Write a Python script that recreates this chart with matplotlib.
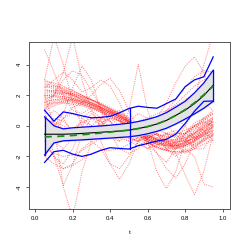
import numpy as np
import matplotlib
matplotlib.use("Agg")
import matplotlib.pyplot as plt

t = [0.05, 0.10, 0.15, 0.20, 0.25, 0.30, 0.35, 0.40, 0.45, 0.50,
     0.55, 0.60, 0.65, 0.70, 0.75, 0.80, 0.85, 0.90, 0.95]

band_curves = [
    [2.8, 2.6, 2.4, 2.2, 2.0, 1.7, 1.4, 1.1, 0.8, 0.4, -0.2, -0.6, -0.8, -0.9, -0.9, -0.8, -0.5, -0.1, 0.3],
    [2.0, 2.0, 1.9, 1.8, 1.6, 1.4, 1.2, 0.9, 0.6, 0.2, -0.4, -0.9, -1.1, -1.2, -1.2, -1.1, -0.8, -0.4, -0.1],
    [1.5, 1.7, 1.8, 1.7, 1.5, 1.3, 1.0, 0.8, 0.5, 0.1, -0.5, -1.0, -1.2, -1.3, -1.4, -1.3, -1.0, -0.6, -0.3],
    [3.0, 2.7, 2.4, 2.1, 1.9, 1.7, 1.5, 1.2, 0.9, 0.5, -0.1, -0.4, -0.6, -0.7, -0.7, -0.5, -0.2, 0.3, 0.8],
    [1.2, 1.5, 1.6, 1.6, 1.4, 1.2, 0.9, 0.6, 0.3, -0.1, -0.6, -1.1, -1.4, -1.6, -1.7, -1.6, -1.3, -0.9, -0.6],
    [2.3, 2.3, 2.2, 2.0, 1.8, 1.5, 1.2, 0.9, 0.6, 0.2, -0.4, -0.8, -1.1, -1.3, -1.4, -1.3, -1.0, -0.6, -0.3],
    [1.8, 1.9, 1.9, 1.8, 1.6, 1.4, 1.1, 0.8, 0.5, 0.1, -0.5, -0.9, -1.1, -1.2, -1.1, -0.9, -0.5, 0.0, 0.4],
    [2.6, 2.4, 2.2, 2.0, 1.8, 1.5, 1.3, 1.0, 0.7, 0.3, -0.3, -0.7, -0.9, -1.0, -1.1, -1.0, -0.8, -0.4, 0.0],
    [1.0, 1.3, 1.5, 1.5, 1.4, 1.2, 0.9, 0.6, 0.3, -0.1, -0.6, -1.1, -1.4, -1.6, -1.8, -1.7, -1.4, -1.0, -0.6],
    [2.2, 2.3, 2.3, 2.1, 1.9, 1.6, 1.3, 1.0, 0.7, 0.3, -0.2, -0.5, -0.6, -0.6, -0.5, -0.3, 0.0, 0.4, 0.9],
    [1.6, 1.7, 1.7, 1.6, 1.4, 1.2, 1.0, 0.7, 0.4, 0.0, -0.6, -1.1, -1.4, -1.6, -1.7, -1.7, -1.5, -1.2, -0.9],
    [2.5, 2.6, 2.5, 2.3, 2.0, 1.7, 1.4, 1.1, 0.8, 0.4, -0.2, -0.6, -0.9, -1.0, -1.0, -0.8, -0.5, -0.1, 0.3],
    [1.4, 1.5, 1.5, 1.4, 1.3, 1.1, 0.9, 0.6, 0.3, -0.1, -0.5, -0.9, -1.2, -1.4, -1.5, -1.4, -1.2, -0.9, -0.6],
    [2.9, 2.8, 2.6, 2.3, 2.0, 1.7, 1.4, 1.1, 0.8, 0.4, -0.2, -0.6, -0.9, -1.1, -1.2, -1.2, -1.0, -0.6, -0.2],
    [2.0, 1.9, 1.8, 1.7, 1.5, 1.3, 1.1, 0.8, 0.5, 0.2, -0.4, -0.8, -1.1, -1.3, -1.3, -1.1, -0.7, -0.2, 0.3],
    [1.7, 2.0, 2.1, 2.1, 1.9, 1.7, 1.4, 1.1, 0.7, 0.3, -0.3, -0.7, -1.0, -1.1, -1.1, -0.9, -0.6, -0.2, 0.2],
    [2.4, 2.2, 2.0, 1.8, 1.6, 1.4, 1.1, 0.9, 0.6, 0.2, -0.3, -0.7, -1.0, -1.2, -1.3, -1.2, -0.9, -0.5, -0.1],
    [1.9, 2.1, 2.2, 2.0, 1.7, 1.5, 1.2, 0.9, 0.6, 0.3, -0.3, -0.8, -1.0, -1.0, -0.9, -0.7, -0.4, 0.1, 0.6],
    [2.7, 2.5, 2.3, 2.0, 1.7, 1.4, 1.1, 0.8, 0.4, 0.0, -0.5, -1.0, -1.3, -1.5, -1.5, -1.3, -0.9, -0.4, 0.1],
    [1.1, 1.4, 1.6, 1.7, 1.6, 1.4, 1.2, 0.9, 0.6, 0.3, -0.3, -0.7, -0.9, -1.0, -1.0, -1.0, -0.9, -0.7, -0.5],
    [2.1, 2.2, 2.1, 1.9, 1.7, 1.5, 1.2, 1.0, 0.7, 0.3, -0.2, -0.6, -0.9, -1.1, -1.3, -1.3, -1.1, -0.8, -0.4],
    [1.3, 1.6, 1.7, 1.7, 1.5, 1.3, 1.0, 0.7, 0.4, 0.0, -0.5, -0.9, -1.2, -1.3, -1.3, -1.1, -0.7, -0.3, 0.1],
]

other_curves = [
    [0.5, 0.2, -0.2, -0.5, -0.6, -0.6, -0.5, -0.3, -0.1, 0.1, 0.3, 0.5, 0.8, 1.0, 1.3, 1.7, 2.1, 2.4, 2.6],
    [-1.5, -1.8, -2.0, -1.9, -1.6, -1.2, -0.8, -0.5, -0.4, -0.3, -0.1, 0.2, 0.5, 0.9, 1.4, 2.0, 2.6, 3.0, 3.2],
    [-2.0, -2.5, -2.8, -2.6, -2.2, -1.8, -1.6, -1.6, -1.5, -1.2, -0.7, -0.2, 0.4, 1.0, 1.7, 2.5, 3.2, 3.6, 3.5],
    [-1.0, -2.0, -2.8, -2.5, -1.5, -1.0, -1.5, -2.5, -2.8, -2.0, -1.0, -0.5, -0.5, -1.0, -1.5, -1.2, -0.5, 0.2, 0.5],
    [5.0, 3.5, 2.0, 1.0, 0.8, 1.2, 1.0, 0.3, -0.5, -0.8, -0.5, -0.2, -0.6, -1.2, -1.4, -1.0, -0.3, 0.5, 1.0],
    [3.0, 5.8, 4.0, 1.5, 0.0, -0.5, 0.0, 0.8, 1.0, 0.5, -0.3, -0.8, -0.5, 0.2, 0.5, 0.0, -0.8, -0.5, 0.5],
    [1.0, 2.0, 3.5, 5.8, 3.0, 1.0, 0.0, -0.5, -0.2, 0.3, 0.0, -0.8, -1.8, -2.4, -1.5, -0.5, 0.0, -0.3, -1.0],
    [0.5, 0.0, 0.8, 2.5, 3.9, 3.0, 1.0, -0.5, -1.5, -1.8, -1.5, -0.8, -0.3, -0.5, -1.2, -1.8, -1.5, -0.8, 0.0],
    [-1.0, -0.5, 0.5, 1.2, 1.5, 2.0, 2.7, 3.1, 2.3, 1.0, -0.2, -1.0, -1.5, -1.6, -1.2, -0.5, 0.2, 0.5, 0.2],
    [0.0, -1.0, -1.5, -0.8, 0.5, 1.0, 0.5, -0.5, -1.0, 1.0, 4.0, 1.0, -0.5, -1.5, -1.0, 0.0, 1.0, 1.5, 1.0],
    [-1.0, -2.0, -2.5, -1.5, 0.0, 0.8, 0.3, -0.5, -0.5, 0.3, 0.8, 0.5, 0.5, 1.5, 2.8, 3.9, 4.5, 3.5, 1.5],
    [0.5, 1.0, 0.5, -0.5, -1.0, -0.5, 0.2, 0.5, 0.0, -0.8, -1.0, -0.6, 0.0, 0.5, 0.8, 1.0, 1.8, 4.0, 6.0],
    [1.0, -2.0, -3.9, -2.5, -0.5, 0.5, 0.0, -0.8, -1.0, -0.5, 0.0, 0.3, 0.0, -0.5, -0.8, -0.6, 0.0, 0.5, 0.8],
    [2.0, 0.0, -4.0, -6.0, -3.0, -1.0, 0.5, 1.0, 0.5, -0.5, -1.2, -1.5, -1.0, -0.5, -0.3, -0.8, -1.5, -1.5, -0.5],
    [0.5, 0.0, -0.5, -0.2, 0.3, 0.0, -1.0, -2.5, -3.5, -2.5, -1.0, 0.0, 0.3, 0.0, -0.5, -0.5, 0.0, 0.3, 0.0],
    [-0.5, 0.0, 0.5, 0.8, 0.5, 0.0, -0.5, -0.8, -0.5, 0.0, 0.0, -1.0, -3.0, -4.1, -3.0, -1.0, 0.0, 0.2, 0.0],
    [0.0, 0.5, 0.3, -0.3, -0.5, 0.0, 0.5, 0.3, -0.3, -0.8, -1.0, -0.8, -0.5, -0.8, -1.8, -3.2, -4.5, -3.0, -0.5],
    [0.5, 0.0, -0.5, -0.3, 0.2, 0.5, 0.3, -0.3, -0.8, -1.0, -0.8, -0.5, -0.8, -1.5, -2.0, -1.5, -2.0, -3.8, -4.0],
    [0.0, 0.3, 0.0, -0.5, -0.8, -0.5, 0.0, 0.5, 0.3, -0.3, -0.8, -1.2, -1.8, -2.8, -3.4, -2.5, -1.0, 0.0, 0.5],
    [1.5, 2.0, 3.0, 3.6, 3.3, 2.3, 1.2, 0.3, -0.5, -1.0, -1.3, -1.2, -0.8, -0.5, -0.6, -1.0, -1.3, -1.0, -0.3],
    [2.5, 3.0, 3.5, 3.0, 2.2, 2.5, 3.0, 2.6, 1.5, 0.0, -1.0, -1.5, -1.3, -0.8, -0.5, -0.5, -0.8, -0.6, 0.0],
]

mean_est = [-0.55, -0.55, -0.55, -0.53, -0.5, -0.46, -0.42, -0.38, -0.34, -0.28,
            -0.18, -0.05, 0.12, 0.35, 0.68, 1.02, 1.45, 1.98, 2.65]
mean_true = [-0.72, -0.70, -0.67, -0.63, -0.58, -0.53, -0.47, -0.41, -0.35, -0.28,
             -0.18, -0.05, 0.12, 0.36, 0.68, 1.05, 1.5, 2.03, 2.6]
band_upper = [0.59, 0.0, -0.2, -0.13, -0.09, -0.05, -0.01, 0.04, 0.1, 0.17,
              0.28, 0.42, 0.6, 0.86, 1.22, 1.6, 2.15, 2.8, 3.63]
band_lower = [-1.91, -1.12, -0.98, -0.95, -0.92, -0.88, -0.84, -0.8, -0.76, -0.72,
              -0.64, -0.52, -0.36, -0.16, 0.12, 0.44, 0.78, 1.15, 1.6]
outer_upper = [1.02, 0.3, 0.91, 0.8, 0.65, 0.52, 0.55, 0.62, 0.85, 1.13,
               1.28, 1.2, 1.15, 1.45, 1.75, 2.55, 3.0, 3.2, 4.5]
outer_lower = [-2.39, -1.69, -1.6, -1.85, -2.0, -1.85, -1.6, -1.43, -1.48, -1.52,
               -1.3, -1.15, -1.0, -0.88, -0.55, 0.15, 0.95, 1.6, 1.62]
split_t = 0.508

fig = plt.figure(figsize=(2.45, 2.45), dpi=100)
ax = fig.add_axes([0.117, 0.146, 0.822, 0.681])

for c in band_curves + other_curves:
    ax.plot(t, c, color=(1, 0, 0, 0.45), lw=0.75, ls=(0, (1, 1.1)))

ax.fill_between(t, band_lower, band_upper, color="#e3e3e3", zorder=3)
ax.plot(t, band_upper, color="blue", lw=0.9, zorder=4)
ax.plot(t, band_lower, color="blue", lw=0.9, zorder=4)
ax.plot([t[0], t[0]], [band_lower[0], band_upper[0]], color="blue", lw=0.9, zorder=4)
ax.plot([t[-1], t[-1]], [band_lower[-1], band_upper[-1]], color="blue", lw=0.9, zorder=4)
ax.plot(t, outer_upper, color="blue", lw=0.9, zorder=4)
ax.plot(t, outer_lower, color="blue", lw=0.9, zorder=4)
ou = np.interp(split_t, t, outer_upper)
ol = np.interp(split_t, t, outer_lower)
ax.plot([split_t, split_t], [ol, ou], color="blue", lw=0.9, zorder=4)
ax.plot(t, mean_est, color="black", lw=0.8, zorder=5)
ax.plot(t, mean_true, color="#1f8a1f", lw=1.3, ls=(0, (4, 3)), zorder=6)

ax.set_xlim(-0.035, 1.04)
ax.set_ylim(-5.45, 5.45)
ax.set_xticks([0.0, 0.2, 0.4, 0.6, 0.8, 1.0])
ax.set_xticklabels(["0.0", "0.2", "0.4", "0.6", "0.8", "1.0"])
ax.set_yticks([-4, -2, 0, 2, 4])
ax.set_yticklabels(["-4", "-2", "0", "2", "4"], rotation=90, va="center")
ax.tick_params(labelsize=4.3, length=2.5, width=0.6, color="#444444", pad=2.5)
for lab in ax.get_xticklabels() + ax.get_yticklabels():
    lab.set_family("Liberation Sans")
for s in ax.spines.values():
    s.set_color("#555555")
    s.set_linewidth(0.7)
ax.set_xlabel("t", fontsize=4.5, family="Liberation Sans", labelpad=6)

fig.savefig("out.png", dpi=100)
